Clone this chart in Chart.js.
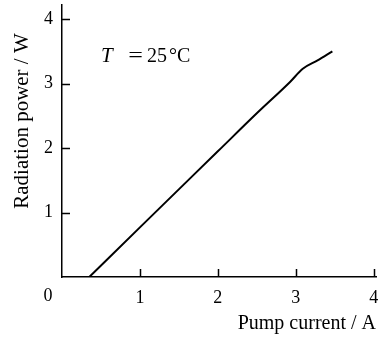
<!DOCTYPE html>
<html>
<head>
<meta charset="utf-8">
<script src="https://cdn.jsdelivr.net/npm/chart.js@4/dist/chart.umd.min.js"></script>
<style>
  html, body { margin: 0; padding: 0; background: #fff; }
  #wrap { width: 380px; height: 338px; position: relative; }
</style>
</head>
<body>
<div id="wrap"><canvas id="chart-line"></canvas></div>
<script>
// pump current (A) and radiation power (W)
var currents = [0.35, 1.0, 2.0, 2.5, 2.93, 3.09, 3.28, 3.47];
var powers   = [0.0, 0.77, 1.95, 2.54, 3.03, 3.23, 3.36, 3.50];
var xTicks = [1, 2, 3, 4];
var yTicks = [1, 2, 3, 4];

var serif = "'Liberation Serif', 'Times New Roman', serif";

var points = currents.map(function (c, i) { return { x: c, y: powers[i] }; });

// ticks pointing into the plot, shared "0" and free text
var extras = {
  id: 'extras',
  afterDraw: function (chart) {
    var ctx = chart.ctx;
    var xs = chart.scales.x, ys = chart.scales.y;
    var area = chart.chartArea;
    ctx.save();
    ctx.strokeStyle = '#000';
    ctx.lineWidth = 1.5;
    ctx.beginPath();
    xTicks.forEach(function (v) {
      var px = Math.round(xs.getPixelForValue(v)) + 0.5;
      ctx.moveTo(px, area.bottom);
      ctx.lineTo(px, area.bottom - 8);
    });
    yTicks.forEach(function (v) {
      var py = Math.round(ys.getPixelForValue(v)) + 0.5;
      ctx.moveTo(area.left, py);
      ctx.lineTo(area.left + 8, py);
    });
    ctx.stroke();

    ctx.fillStyle = '#000';
    ctx.font = '18px ' + serif;
    ctx.textAlign = 'center';
    ctx.textBaseline = 'middle';
    ctx.fillText('0', area.left - 14, area.bottom + 19);

    // x title
    ctx.font = '20px ' + serif;
    ctx.textAlign = 'right';
    ctx.textBaseline = 'alphabetic';
    ctx.fillText('Pump current / A', area.right, 329);

    // y title
    ctx.save();
    ctx.translate(28, 121);
    ctx.rotate(-Math.PI / 2);
    ctx.textAlign = 'center';
    ctx.font = '21px ' + serif;
    ctx.fillText('Radiation power / W', 0, 0);
    ctx.restore();

    // annotation
    ctx.textAlign = 'left';
    ctx.font = 'italic 21px ' + serif;
    ctx.fillText('T', 101, 62);
    ctx.font = '20px ' + serif;
    ctx.save();
    ctx.translate(135.5, 62);
    ctx.scale(1.3, 1);
    ctx.textAlign = 'center';
    ctx.fillText('=', 0, 0);
    ctx.restore();
    ctx.fillText('25', 147, 62);
    ctx.fillText('\u00B0C', 169, 62);
    ctx.restore();
  }
};

function noPadX(s) {
  s.height = 61;
  s.paddingLeft = 0;
  s.paddingRight = 0;
}

function noPadY(s) {
  s.width = 62;
  s.paddingTop = 0;
  s.paddingBottom = 0;
}

new Chart(document.getElementById('chart-line'), {
  type: 'scatter',
  data: {
    datasets: [{
      data: points,
      showLine: true,
      borderColor: '#000',
      borderWidth: 2,
      pointRadius: 0,
      cubicInterpolationMode: 'monotone'
    }]
  },
  options: {
    responsive: true,
    maintainAspectRatio: false,
    animation: false,
    layout: { padding: { top: 5, right: 4, left: 0, bottom: 0 } },
    plugins: { legend: { display: false }, tooltip: { enabled: false } },
    scales: {
      x: {
        type: 'linear',
        min: 0,
        max: 4.03,
        afterBuildTicks: function (s) {
          s.ticks = xTicks.map(function (v) { return { value: v }; });
        },
        afterFit: noPadX,
        border: { display: true, color: '#000', width: 1.5 },
        grid: { display: true, drawOnChartArea: false, drawTicks: false },
        ticks: {
          color: '#000',
          padding: 10,
          maxRotation: 0,
          font: { size: 18, family: serif }
        }
      },
      y: {
        type: 'linear',
        min: 0,
        max: 4.22,
        afterBuildTicks: function (s) {
          s.ticks = yTicks.map(function (v) { return { value: v }; });
        },
        afterFit: noPadY,
        border: { display: true, color: '#000', width: 1.5 },
        grid: { display: true, drawOnChartArea: false, drawTicks: false },
        ticks: {
          color: '#000',
          padding: 9,
          font: { size: 18, family: serif }
        }
      }
    }
  },
  plugins: [extras]
});
</script>
</body>
</html>
